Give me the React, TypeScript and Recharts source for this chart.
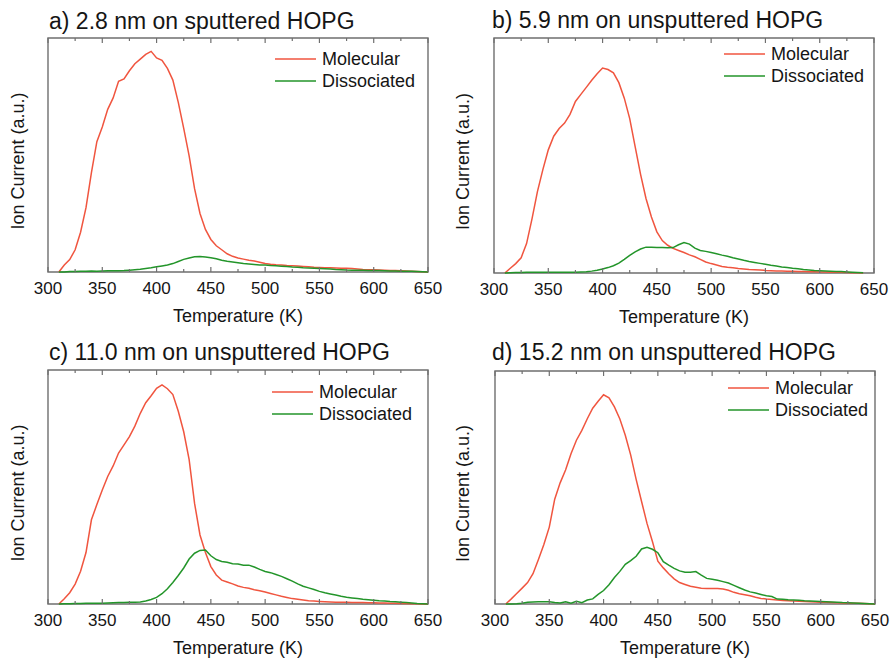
import { LineChart, Line, XAxis, YAxis, ReferenceArea, Legend } from "recharts";

const FONT = '"Liberation Sans", Arial, sans-serif';
const RED = "#f0553f";
const GREEN = "#23952a";
const FRAME = "#6f6f6f";
const INK = "#151515";

// temperature grid (K)
const TEMPS = [
  310, 315, 320, 325, 330, 335, 340, 345, 350, 355,
  360, 365, 370, 375, 380, 385, 390, 395, 400, 405,
  410, 415, 420, 425, 430, 435, 440, 445, 450, 455,
  460, 465, 470, 475, 480, 485, 490, 495, 500, 505,
  510, 515, 520, 525, 530, 535, 540, 545, 550, 555,
  560, 565, 570, 575, 580, 585, 590, 595, 600, 605,
  610, 615, 620, 625, 630, 635, 640, 645, 650,
];

const X_TICKS = [300, 325, 350, 375, 400, 425, 450, 475, 500, 525, 550, 575, 600, 625, 650];

const SERIES = [
  { key: "molecular", name: "Molecular", color: RED },
  { key: "dissociated", name: "Dissociated", color: GREEN },
];

// a) 2.8 nm on sputtered HOPG
const molecularA = [
  0, 3, 5.3, 9.5, 17, 27.5, 42.5, 55.7, 62, 69.5,
  74.4, 81.5, 82.5, 86, 89, 91, 93, 94.3, 91.5, 90.5,
  87, 82, 72.5, 61.4, 49.6, 35.6, 25, 18.2, 13.9, 11.2,
  9.5, 7.8, 6.7, 6.0, 5.5, 5.0, 4.7, 4.2, 3.6, 3.3,
  3.1, 3.0, 2.8, 2.7, 2.6, 2.4, 2.2, 2.0, 1.9, 1.85,
  1.8, 1.7, 1.65, 1.6, 1.45, 1.3, 1.1, 1.0, 0.95, 0.85,
  0.75, 0.65, 0.6, 0.5, 0.4, 0.3, 0.2, 0.1, 0,
];
const dissociatedA = [
  0, 0, 0.2, 0.2, 0.3, 0.3, 0.4, 0.3, 0.4, 0.5,
  0.5, 0.5, 0.6, 0.8, 1.0, 1.2, 1.5, 1.8, 2.2, 2.6,
  3.0, 3.6, 4.5, 5.4, 6.0, 6.5, 6.6, 6.4, 6.1, 5.7,
  5.0, 4.6, 4.3, 4.0, 3.6, 3.4, 3.2, 3.0, 3.0, 2.8,
  2.7, 2.5, 2.3, 2.1, 2.0, 1.8, 1.7, 1.6, 1.5, 1.4,
  1.3, 1.1, 1.0, 0.85, 0.8, 0.75, 0.7, 0.65, 0.6, 0.6,
  0.5, 0.45, 0.4, 0.35, 0.3, 0.3, 0.2, 0.1, 0,
];

// b) 5.9 nm on unsputtered HOPG
const molecularB = [
  0, 2, 4, 6.5, 12.5, 23, 34.6, 44, 52.4, 58.2,
  61.5, 63.8, 67.5, 73, 76, 79, 82, 84.8, 87.2, 86.6,
  85.2, 81, 74.4, 65.7, 53.8, 42, 31.7, 23.8, 17.5, 13.8,
  11.8, 10.5, 9.6, 8.7, 7.7, 6.9, 5.8, 4.7, 4.0, 3.4,
  2.8, 2.4, 2.2, 1.9, 1.7, 1.5, 1.4, 1.3, 1.1, 1.0,
  0.85, 0.8, 0.75, 0.7, 0.65, 0.6, 0.55, 0.5, 0.45, 0.4,
  0.35, 0.3, 0.3, 0.2, 0.15, 0.1, 0, null, null,
];
const dissociatedB = [
  0, 0.1, 0.2, 0.2, 0.3, 0.3, 0.3, 0.3, 0.3, 0.3,
  0.3, 0.3, 0.3, 0.3, 0.4, 0.5, 0.8, 1.2, 1.7, 2.3,
  3.1, 4.2, 5.8, 7.5, 9.0, 10.2, 11.0, 11.0, 10.9, 10.8,
  10.7, 10.8, 12.0, 13.0, 12.3, 10.6, 9.6, 9.2, 8.7, 8.2,
  7.6, 7.1, 6.5, 6.0, 5.4, 4.9, 4.5, 4.1, 3.7, 3.3,
  3.0, 2.6, 2.3, 2.0, 1.8, 1.5, 1.3, 1.1, 1.0, 0.85,
  0.75, 0.65, 0.6, 0.45, 0.35, 0.25, 0.1, null, null,
];

// c) 11.0 nm on unsputtered HOPG
const molecularC = [
  0, 2.2, 4.8, 8.5, 14, 22, 36, 42.5, 48.7, 54.5,
  59, 64.5, 68, 71.5, 76, 81.5, 86, 89, 92.2, 93.6,
  92, 89.5, 82.4, 73.6, 61.7, 43, 29.5, 22, 16, 12.4,
  10.2, 9.4, 8.6, 7.7, 7.1, 6.7, 6.1, 5.7, 5.1, 4.5,
  3.9, 3.3, 2.8, 2.3, 2.0, 1.7, 1.4, 1.3, 1.1, 0.95,
  0.85, 0.8, 0.75, 0.7, 0.65, 0.6, 0.6, 0.55, 0.5, 0.45,
  0.4, 0.35, 0.3, 0.25, 0.2, 0.15, 0.1, 0, 0,
];
const dissociatedC = [
  0, 0.1, 0.1, 0.2, 0.2, 0.3, 0.3, 0.3, 0.3, 0.4,
  0.5, 0.6, 0.6, 0.7, 0.8, 0.9, 1.3, 1.9, 2.8, 4.4,
  6.5, 9.2, 12.2, 15.4, 19.2, 21.7, 22.9, 23.1, 20.6, 19,
  18.2, 17.8, 17.2, 17.1, 16.6, 16.6, 15.8, 14.8, 13.9, 13.4,
  12.6, 11.8, 10.8, 9.8, 8.6, 7.6, 6.9, 6.2, 5.4, 4.8,
  4.3, 3.8, 3.3, 2.9, 2.6, 2.3, 2.0, 1.8, 1.6, 1.4,
  1.3, 1.1, 1.0, 0.8, 0.6, 0.4, 0.2, 0.1, 0,
];

// d) 15.2 nm on unsputtered HOPG
const molecularD = [
  0, 2.2, 4.5, 6.8, 9.2, 13, 19.1, 25.5, 33, 45,
  52, 57.5, 64.5, 70.3, 74.5, 79.5, 84, 87, 89.8, 88.5,
  84.6, 79.4, 72.4, 63.9, 53.5, 44, 34.6, 26.8, 18.4, 15.5,
  13, 10.8, 9.2, 8.4, 7.6, 7.2, 6.8, 6.7, 6.7, 6.7,
  6.4, 5.9, 5.0, 4.4, 4.0, 3.5, 2.9, 2.4, 2.1, 1.9,
  1.7, 1.5, 1.4, 1.3, 1.2, 1.1, 1.0, 0.9, 0.8, 0.7,
  0.6, 0.5, 0.4, 0.35, 0.3, 0.3, 0.2, 0.1, 0,
];
const dissociatedD = [
  0, 0, 0.1, 0.3, 0.7, 0.9, 1.0, 1.0, 1.0, 0.6,
  0.4, 1.0, 0.3, 1.2, 0.6, 1.7, 2.2, 4.1, 5.8, 8.3,
  11.4, 14.0, 17.0, 18.6, 20.5, 23.6, 24.3, 23.5, 22.0, 18.2,
  16.7, 15.3, 14.2, 13.6, 13.6, 13.9, 12.4, 11.0, 10.6, 10.2,
  9.6, 9.0, 8.0, 7.0, 6.0, 5.2, 4.7, 4.1, 3.5, 3.2,
  2.1, 2.0, 1.8, 1.7, 1.6, 1.4, 1.3, 1.2, 1.1, 1.0,
  0.9, 0.8, 0.6, 0.5, 0.4, 0.3, 0.2, 0.1, 0,
];

const PANELS = [
  {
    title: "a) 2.8 nm on sputtered HOPG",
    molecular: molecularA, dissociated: dissociatedA,
    x: 0, y: 0, h: 330, mTop: 38, mRight: 17, yAxisW: 48, xAxisH: 58,
    legend: { left: 275, top: 48 }, titleX: 49, titleY: 10,
  },
  {
    title: "b) 5.9 nm on unsputtered HOPG",
    molecular: molecularB, dissociated: dissociatedB,
    x: 445, y: 0, h: 330, mTop: 38, mRight: 16, yAxisW: 49, xAxisH: 57,
    legend: { left: 279, top: 43 }, titleX: 47, titleY: 9,
  },
  {
    title: "c) 11.0 nm on unsputtered HOPG",
    molecular: molecularC, dissociated: dissociatedC,
    x: 0, y: 330, h: 329, mTop: 40, mRight: 17, yAxisW: 48, xAxisH: 55,
    legend: { left: 272, top: 51 }, titleX: 49, titleY: 11,
  },
  {
    title: "d) 15.2 nm on unsputtered HOPG",
    molecular: molecularD, dissociated: dissociatedD,
    x: 445, y: 330, h: 329, mTop: 41, mRight: 15, yAxisW: 50, xAxisH: 55,
    legend: { left: 283, top: 47 }, titleX: 47, titleY: 11,
  },
];

function XTick(props: any) {
  const { x, y, payload, plotTop } = props;
  const major = payload.value % 50 === 0;
  const len = major ? 5 : 3;
  return (
    <g>
      <line x1={x} x2={x} y1={y} y2={y - len} stroke={FRAME} strokeWidth={1.2} />
      <line x1={x} x2={x} y1={plotTop} y2={plotTop + len} stroke={FRAME} strokeWidth={1.2} />
      {major && (
        <text x={x} y={y + 22} textAnchor="middle" fontSize={17} fill={INK} fontFamily={FONT}>
          {payload.value}
        </text>
      )}
    </g>
  );
}

// legend keeps the series order (Molecular first), not alphabetical
function renderLegend() {
  return (
    <div style={{ fontFamily: FONT, fontSize: 18, color: INK }}>
      {SERIES.map((s) => (
        <div key={s.key} style={{ display: "flex", alignItems: "center", height: 22 }}>
          <svg width={41} height={4} style={{ display: "block" }}>
            <line x1={0} x2={41} y1={2} y2={2} stroke={s.color} strokeWidth={1.5} />
          </svg>
          <span style={{ marginLeft: 6, whiteSpace: "nowrap" }}>{s.name}</span>
        </div>
      ))}
    </div>
  );
}

function Panel({ p }: { p: (typeof PANELS)[number] }) {
  const data = TEMPS.map((t, i) => ({ t, molecular: p.molecular[i], dissociated: p.dissociated[i] }));
  return (
    <div style={{ position: "absolute", left: p.x, top: p.y, width: 445, height: p.h }}>
      <div
        style={{
          position: "absolute", left: p.titleX, top: p.titleY, fontFamily: FONT,
          fontSize: 23, lineHeight: "23px", color: INK, whiteSpace: "nowrap",
        }}
      >
        {p.title}
      </div>
      <LineChart
        width={445}
        height={p.h}
        data={data}
        margin={{ top: p.mTop, right: p.mRight, left: 0, bottom: 0 }}
      >
        <XAxis
          dataKey="t"
          type="number"
          domain={[300, 650]}
          ticks={X_TICKS}
          interval={0}
          height={p.xAxisH}
          axisLine={false}
          tickLine={false}
          tickSize={0}
          tickMargin={0}
          tick={(tp: any) => <XTick {...tp} plotTop={p.mTop} />}
          label={{
            content: ({ viewBox }: any) => (
              <text
                x={viewBox.x + viewBox.width / 2}
                y={viewBox.y + 50}
                textAnchor="middle"
                fontSize={18}
                fill={INK}
                fontFamily={FONT}
              >
                Temperature (K)
              </text>
            ),
          }}
        />
        <YAxis
          type="number"
          domain={[0, 100]}
          width={p.yAxisW}
          tick={false}
          axisLine={false}
          tickLine={false}
          label={{
            content: ({ viewBox }: any) => {
              const cx = viewBox.x + 18;
              const cy = viewBox.y + viewBox.height / 2 + 6;
              return (
                <text
                  x={cx}
                  y={cy}
                  transform={`rotate(-90, ${cx}, ${cy})`}
                  textAnchor="middle"
                  dominantBaseline="central"
                  fontSize={18}
                  fill={INK}
                  fontFamily={FONT}
                >
                  Ion Current (a.u.)
                </text>
              );
            },
          }}
        />
        <ReferenceArea x1={300} x2={650} y1={0} y2={100} fill="none" stroke={FRAME} strokeWidth={1.4} />
        {SERIES.map((s) => (
          <Line
            key={s.key}
            type="linear"
            dataKey={s.key}
            name={s.name}
            stroke={s.color}
            strokeWidth={1.5}
            dot={false}
            isAnimationActive={false}
          />
        ))}
        <Legend
          layout="vertical"
          align="center"
          verticalAlign="middle"
          content={renderLegend}
          wrapperStyle={{ left: p.legend.left, top: p.legend.top, width: 160 }}
        />
      </LineChart>
    </div>
  );
}

export default function App() {
  return (
    <div style={{ position: "absolute", left: 0, top: 0, width: 890, height: 659, background: "#fff" }}>
      {PANELS.map((p) => (
        <Panel key={p.title} p={p} />
      ))}
    </div>
  );
}
